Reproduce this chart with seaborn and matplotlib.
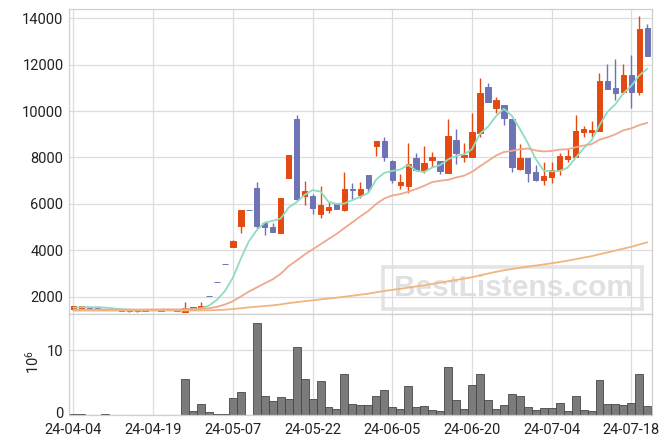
import numpy as np
import pandas as pd
import matplotlib
matplotlib.use("Agg")
import matplotlib.pyplot as plt
import matplotlib.transforms as mtransforms
import seaborn as sns
from matplotlib.patches import Rectangle

# ---------------- data ----------------
dates = [
    "24-04-04", "24-04-05", "24-04-08", "24-04-09", "24-04-11", "24-04-12", "24-04-15",
    "24-04-16", "24-04-17", "24-04-18", "24-04-19", "24-04-22", "24-04-23", "24-04-24",
    "24-04-25", "24-04-26", "24-04-29", "24-04-30", "24-05-02", "24-05-03", "24-05-07",
    "24-05-08", "24-05-09", "24-05-10", "24-05-13", "24-05-14", "24-05-16", "24-05-17",
    "24-05-20", "24-05-21", "24-05-22", "24-05-23", "24-05-24", "24-05-27", "24-05-28",
    "24-05-29", "24-05-30", "24-05-31", "24-06-03", "24-06-04", "24-06-05", "24-06-07",
    "24-06-10", "24-06-11", "24-06-12", "24-06-13", "24-06-14", "24-06-17", "24-06-18",
    "24-06-19", "24-06-20", "24-06-21", "24-06-24", "24-06-25", "24-06-26", "24-06-27",
    "24-06-28", "24-07-01", "24-07-02", "24-07-03", "24-07-04", "24-07-05", "24-07-08",
    "24-07-09", "24-07-10", "24-07-11", "24-07-12", "24-07-15", "24-07-16", "24-07-17",
    "24-07-18", "24-07-19", "24-07-22",
]
opens = [1460, 1485, 1545, 1560, 1470, 1440, 1380, 1390, 1385, 1385, 1445, 1400, 1440, 1430,
         1360, 1480, 1500, 2030, 2620, 3400, 4160, 5060, 5740, 6690, 5180, 5000, 4760, 7130,
         9660, 6340, 6340, 5580, 5750, 5980, 5750, 6650, 6390, 7240, 8510, 8710, 7850, 6815,
         6790, 7960, 7460, 7890, 7850, 7345, 8750, 8040, 8040, 9070, 11020, 10150, 10260, 9660,
         7500, 7980, 7370, 7045, 7170, 7460, 7920, 8040, 9090, 9110, 9160, 11300, 10990, 10800,
         11560, 10800, 13560]
highs = [1615, 1600, 1570, 1565, 1475, 1445, 1440, 1425, 1420, 1450, 1450, 1450, 1445, 1435,
         1760, 1560, 1760, 2030, 2620, 3400, 4440, 5740, 5740, 6940, 5200, 5180, 6240, 8110,
         9830, 6990, 6410, 6760, 6140, 6000, 7360, 6890, 6930, 7250, 8710, 8880, 7870, 7280,
         8620, 8180, 8480, 8240, 7860, 9650, 9210, 8610, 9900, 11410, 11200, 10590, 10270, 9670,
         8570, 7990, 7680, 7820, 7790, 8180, 8350, 9820, 9340, 9560, 11630, 12020, 12230, 12020,
         12420, 14100, 13750]
lows = [1455, 1480, 1510, 1495, 1415, 1420, 1375, 1350, 1350, 1380, 1440, 1395, 1435, 1370,
        1355, 1475, 1500, 2030, 2620, 3400, 4130, 4730, 5740, 4950, 4660, 4790, 4740, 7130,
        6120, 5940, 5550, 5380, 5590, 5780, 5700, 6170, 6240, 6530, 8060, 7860, 6890, 6655,
        6460, 7400, 7320, 7600, 7280, 7340, 7710, 7810, 8000, 8900, 10400, 9900, 9400, 7390,
        7450, 6930, 6980, 6810, 6910, 7245, 7820, 8030, 8870, 8900, 9150, 10960, 10480, 10720,
        10120, 10690, 12380]
closes = [1610, 1600, 1530, 1500, 1420, 1425, 1435, 1420, 1415, 1445, 1450, 1450, 1445, 1375,
          1520, 1560, 1600, 2030, 2620, 3400, 4420, 5740, 5740, 5050, 5020, 4800, 6240, 8110,
          6210, 6570, 5840, 5940, 5860, 5800, 6640, 6590, 6640, 6700, 8710, 8040, 7020, 6930,
          7700, 7460, 7750, 8010, 7430, 8925, 8210, 8110, 9100, 10780, 10400, 10480, 9720, 7600,
          7980, 7340, 7030, 7200, 7460, 8060, 8060, 9140, 9230, 9200, 11300, 10965, 10790, 11560,
          10840, 13540, 12390]
volumes = [0.1, 0.1, 0.0, 0.0, 0.1, 0.0, 0.0, 0.0, 0.0, 0.0, 0.0, 0.0, 0.0, 0.0,
           5.5, 0.6, 1.65, 0.4, 0.1, 0.1, 2.56, 3.5, 0.0, 14.1, 2.97, 2.15, 2.7, 2.4,
           10.4, 5.6, 2.4, 5.3, 1.2, 1.0, 6.25, 1.65, 1.5, 1.5, 3.0, 3.8, 1.3, 0.87,
           4.4, 1.2, 1.33, 0.72, 0.56, 7.33, 2.26, 0.87, 4.56, 6.25, 2.26, 1.0, 1.5, 3.18,
           2.87, 1.18, 0.72, 1.03, 1.03, 1.8, 0.56, 2.87, 0.72, 0.56, 5.33, 1.64, 1.64, 1.5,
           1.8, 6.25, 1.33]  # millions

ma_windows = [5, 20, 120]
ma_start_levels = [1505, 1415, 1397]   # MA levels before the shown window
ma_colors = ["#8fdcc1", "#eea98c", "#f1b57f"]
price_ticks = [2000, 4000, 6000, 8000, 10000, 12000, 14000]
vol_ticks = [0, 10]
tick_every = 10

UP = "#e4490f"
DOWN = "#6e73b5"

# ---------------- style ----------------
sns.set_theme(style="white")
plt.rcParams["font.family"] = ["Roboto", "DejaVu Sans"]

fig = plt.figure(figsize=(6.71, 4.44), dpi=100)
L, W = 69 / 671, (651.7 - 69) / 671
ax = fig.add_axes([L, 1 - 314.3 / 444, W, (314.3 - 9.3) / 444])
axv = fig.add_axes([L, 1 - 415 / 444, W, (415 - 314.3) / 444], sharex=ax)

df = pd.DataFrame({"i": np.arange(len(dates)), "date": dates, "open": opens,
                   "high": highs, "low": lows, "close": closes, "vol": volumes})
up = df["close"] > df["open"]
col = np.where(up, UP, DOWN)

# wicks
ax.vlines(df["i"], df["low"], df["high"], colors=col, lw=1.0, zorder=2)
# bodies
body_lo = np.minimum(df["open"], df["close"])
body_h = np.abs(df["close"] - df["open"])
ax.bar(df["i"], body_h, bottom=body_lo, width=0.68, color=col, edgecolor=col,
       linewidth=0.7, zorder=2)

# moving averages
for w, lvl, c in zip(ma_windows, ma_start_levels, ma_colors):
    s = pd.Series([lvl] * (w - 1) + list(closes), dtype=float).rolling(w).mean()
    ma = s.iloc[w - 1:].to_numpy()
    sns.lineplot(x=df["i"], y=ma, ax=ax, color=c, lw=1.3, zorder=3)

# volume
sns.barplot(x=df["i"], y=df["vol"], ax=axv, native_scale=True, width=1.0,
            color="#7b7b7b", edgecolor="#474747", linewidth=0.6, saturation=1)

# ---------------- axes formatting ----------------
xt = list(range(0, len(dates), tick_every))
for a in (ax, axv):
    a.set_xlim(-0.56, 72.55)
    a.grid(True, color="#dddddd", lw=0.9)
    a.set_axisbelow(True)
    for sp in a.spines.values():
        sp.set_color("#cfcfcf")
        sp.set_linewidth(0.9)
    a.tick_params(length=0, labelsize=10.5, colors="#222222", pad=4)
    a.set_xlabel("")
    a.set_ylabel("")

ax.set_ylim(1242, 14385)
ax.set_yticks(price_ticks)
ax.set_yticklabels([str(t) for t in price_ticks])
ax.set_xticks(xt)
ax.tick_params(axis="x", labelbottom=False)

axv.set_ylim(0, 15.5)
axv.set_yticks(vol_ticks)
axv.set_yticklabels([str(t) for t in vol_ticks])
axv.set_xticks(xt)
axv.set_xticklabels([dates[i] for i in xt])
axv.tick_params(axis="x", pad=5.5)
# lift the "0" label a little so it clears the date labels
zero_lbl = axv.get_yticklabels()[0]
zero_lbl.set_transform(zero_lbl.get_transform() +
                       mtransforms.ScaledTranslation(0, 2 / 72, fig.dpi_scale_trans))

fig.text(33 / 671, 1 - 362 / 444, r"$\mathregular{10^6}$", rotation=90,
         ha="center", va="center", fontsize=10.5, color="#222222")

# watermark
ax.add_patch(Rectangle((383 / 671, 1 - 309 / 444), 259 / 671, 42 / 444,
                       transform=fig.transFigure, fill=False, edgecolor="#dedede",
                       lw=2.6, alpha=0.8, zorder=1.5, clip_on=False))
ax.text(514 / 671, 1 - 288 / 444, "BestListens.com", transform=fig.transFigure,
        ha="center", va="center", fontsize=21.5, fontweight="bold",
        family="Liberation Sans", color="#d9d9d9", alpha=0.8, zorder=1.5)

fig.savefig("out.png", dpi=100)
